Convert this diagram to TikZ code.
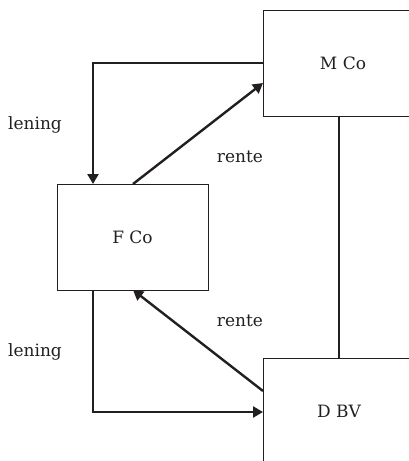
\documentclass[tikz,border=0pt]{standalone}
\usepackage{fontspec}
\setmainfont{DejaVu Serif}
\usetikzlibrary{arrows.meta}
\definecolor{ink}{HTML}{231F20}
\begin{document}
\begin{tikzpicture}[x=1pt,y=-1pt,
  box/.style={draw=ink, line width=0.9pt, minimum width=160pt, minimum height=106pt, inner sep=0pt, text=ink, font=\fontsize{17}{20}\selectfont},
  flow/.style={draw=ink, line width=2.4pt, -{Triangle[length=10pt,width=11pt]}},
  plain/.style={draw=ink, line width=2.4pt},
  lbl/.style={font=\fontsize{17}{20}\selectfont, text=ink, inner sep=0pt}]
\useasboundingbox (0,0) rectangle (409,461);
\clip (0,0) rectangle (409,461);
\node[box] (m) at (343,63.5) {M Co};
\node[box, minimum width=151pt] (f) at (132.5,237) {F Co};
\node[box, minimum height=116pt] (d) at (343,416) {};
\node[lbl] (dt) at (339,411) {D BV};
\coordinate (ftop1) at (93,184);
\coordinate (ftop2) at (133,184);
\coordinate (fbot1) at (93,290);
\coordinate (fbot2) at (133,290);
\coordinate (mleft1) at (263,63);
\coordinate (mleft2) at (263,83);
\coordinate (dleft1) at (263,412);
\coordinate (dleft2) at (263,391);
\draw[flow] (mleft1) -| (ftop1);
\draw[flow] (ftop2) -- (mleft2);
\draw[flow] (fbot1) |- (dleft1);
\draw[flow] (dleft2) -- (fbot2);
\draw[plain] (m.south -| 339,0) -- (d.north -| 339,0);
\node[lbl] (l1) at (35,125) {lening};
\node[lbl] (l2) at (35,352) {lening};
\node[lbl] (r1) at (240,157) {rente};
\node[lbl] (r2) at (240,321) {rente};
\end{tikzpicture}
\end{document}
